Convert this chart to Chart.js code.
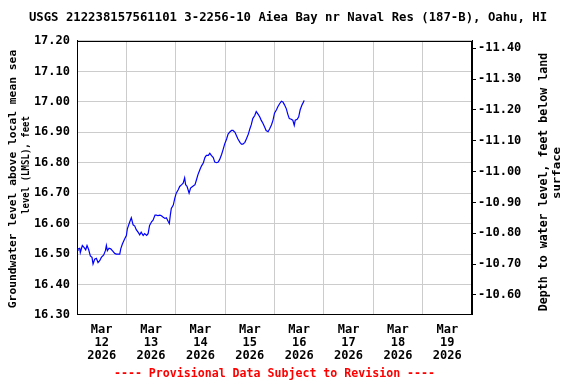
<!DOCTYPE html>
<html>
<head>
<meta charset="utf-8">
<script src="https://cdn.jsdelivr.net/npm/chart.js@4.4.1/dist/chart.umd.min.js"></script>
<style>
  html, body { margin: 0; padding: 0; background: #fff; }
  #wrap { width: 576px; height: 384px; }
</style>
</head>
<body>
<div id="wrap"><canvas id="gwChart"></canvas></div>
<script>
// time of each reading, in days since Mar 12 2026 00:00
const obsDay = [0.0, 0.02, 0.055, 0.067, 0.108, 0.142, 0.176, 0.203, 0.237, 0.27, 0.304, 0.325, 0.358, 0.392, 0.426,
    0.46, 0.493, 0.541, 0.575, 0.595, 0.615, 0.649, 0.683, 0.716, 0.764, 0.797, 0.866, 0.886, 0.919, 0.967, 1.0,
    1.02, 1.069, 1.1, 1.136, 1.17, 1.2, 1.237, 1.27, 1.30, 1.34, 1.37, 1.41, 1.44, 1.47, 1.51, 1.54, 1.58, 1.61,
    1.64, 1.68, 1.71, 1.74, 1.78, 1.81, 1.85, 1.87, 1.89, 1.91, 1.95, 1.98, 2.01, 2.05, 2.08, 2.12, 2.15, 2.18,
    2.20, 2.23, 2.27, 2.30, 2.34, 2.39, 2.42, 2.45, 2.49, 2.52, 2.56, 2.59, 2.62, 2.66, 2.69, 2.72, 2.76, 2.79,
    2.83, 2.86, 2.89, 2.93, 2.96, 2.99, 3.03, 3.06, 3.10, 3.13, 3.16, 3.20, 3.23, 3.26, 3.30, 3.33, 3.36, 3.40,
    3.43, 3.47, 3.50, 3.53, 3.56, 3.60, 3.63, 3.67, 3.70, 3.73, 3.77, 3.80, 3.83, 3.87, 3.90, 3.94, 3.97, 4.00,
    4.04, 4.07, 4.10, 4.14, 4.17, 4.20, 4.24, 4.27, 4.30, 4.34, 4.37, 4.40, 4.42, 4.46, 4.49, 4.52, 4.56, 4.59, 4.60];

// groundwater level above LMSL, feet
const levelFt = [16.512, 16.517, 16.519, 16.505, 16.528, 16.522, 16.514, 16.528, 16.514, 16.494, 16.489, 16.467, 16.483, 16.486, 16.472,
    16.478, 16.489, 16.497, 16.511, 16.528, 16.511, 16.519, 16.517, 16.511, 16.502, 16.500, 16.500, 16.517, 16.533, 16.550, 16.561,
    16.583, 16.606, 16.619, 16.596, 16.592, 16.580, 16.572, 16.563, 16.572, 16.561, 16.567, 16.561, 16.567, 16.594, 16.606, 16.611, 16.628, 16.628,
    16.626, 16.628, 16.626, 16.622, 16.617, 16.619, 16.606, 16.600, 16.628, 16.650, 16.661, 16.683, 16.700, 16.711, 16.722, 16.728, 16.733, 16.750,
    16.728, 16.722, 16.700, 16.717, 16.722, 16.728, 16.744, 16.761, 16.778, 16.789, 16.800, 16.817, 16.824, 16.824, 16.831, 16.824, 16.817, 16.802,
    16.800, 16.802, 16.811, 16.828, 16.844, 16.861, 16.878, 16.894, 16.902, 16.906, 16.906, 16.900, 16.889, 16.878, 16.867, 16.861, 16.861, 16.867,
    16.878, 16.894, 16.911, 16.925, 16.945, 16.955, 16.968, 16.959, 16.951, 16.940, 16.928, 16.917, 16.906, 16.902, 16.911, 16.925, 16.940, 16.963,
    16.974, 16.985, 16.993, 17.002, 17.000, 16.991, 16.977, 16.959, 16.945, 16.943, 16.940, 16.923, 16.940, 16.943, 16.951, 16.974, 16.991, 17.000, 17.005];

const dateLabels = [['Mar', '12', '2026'], ['Mar', '13', '2026'], ['Mar', '14', '2026'], ['Mar', '15', '2026'],
    ['Mar', '16', '2026'], ['Mar', '17', '2026'], ['Mar', '18', '2026'], ['Mar', '19', '2026']];
const levelTicks = [16.30, 16.40, 16.50, 16.60, 16.70, 16.80, 16.90, 17.00, 17.10, 17.20];
const depthTicks = [-11.40, -11.30, -11.20, -11.10, -11.00, -10.90, -10.80, -10.70, -10.60];

const FONT = "'DejaVu Sans Mono', monospace";

// rotated text reading bottom to top, squeezed along the line by sx
function sideText(c, txt, x, y, size, sx) {
    c.save();
    c.translate(x, y);
    c.rotate(-Math.PI / 2);
    c.scale(sx || 1, 1);
    c.font = "bold " + size + "px " + FONT;
    c.fillText(txt, 0, 0);
    c.restore();
}

// box round the plot + both axis titles
const plotFrame = {
    id: 'plotFrame',
    afterDraw(chart) {
        const c = chart.ctx;
        const a = chart.chartArea;
        c.save();
        c.strokeStyle = '#000';
        c.lineWidth = 1;
        c.strokeRect(Math.round(a.left) + 0.5, Math.round(a.top) + 0.5,
            Math.round(a.right - a.left) - 1, Math.round(a.bottom - a.top) - 1);

        c.fillStyle = '#000';
        c.textAlign = 'center';
        c.textBaseline = 'middle';
        sideText(c, 'Groundwater level above local mean sea', 13, 179, 11.3);
        sideText(c, 'level (LMSL), feet', 26, 165, 11.3, 0.8);
        sideText(c, 'Depth to water level, feet below land', 544, 182, 11.6);
        sideText(c, 'surface', 557, 173, 11, 1.12);
        c.restore();
    }
};

const pts = obsDay.map((d, i) => ({ x: d, y: levelFt[i] }));

const ctx = document.getElementById('gwChart').getContext('2d');
const gwChart = new Chart(ctx, {
    type: 'line',
    data: {
        datasets: [{
            data: pts,
            borderColor: '#0000ff',
            borderWidth: 1.2,
            pointRadius: 0,
            tension: 0,
            yAxisID: 'y'
        }]
    },
    options: {
        responsive: true,
        maintainAspectRatio: false,
        animation: false,
        layout: { padding: 0 },
        plugins: {
            legend: { display: false },
            tooltip: { enabled: false },
            title: {
                display: true,
                text: 'USGS 212238157561101 3-2256-10 Aiea Bay nr Naval Res (187-B), Oahu, HI',
                color: '#000',
                font: { family: FONT, size: 12.3, weight: 'bold', lineHeight: 1.25 },
                padding: { top: 10, bottom: 15.6 }
            },
            subtitle: {
                display: true,
                position: 'bottom',
                fullSize: false,
                text: '---- Provisional Data Subject to Revision ----',
                color: '#ff0000',
                font: { family: FONT, size: 11.6, weight: 'bold', lineHeight: 1.3 },
                padding: { top: 0, bottom: 2 }
            }
        },
        scales: {
            x: {
                type: 'linear',
                min: 0,
                max: 8,
                afterBuildTicks: (s) => {
                    const t = [];
                    for (let i = 0; i <= 16; i++) t.push({ value: i / 2 });
                    s.ticks = t;
                },
                afterFit: (s) => { s.height = 52; },
                grid: {
                    color: (c) => (c.tick && c.tick.value % 1 === 0) ? '#cccccc' : 'rgba(0,0,0,0)',
                    drawTicks: false
                },
                border: { color: '#000' },
                ticks: {
                    autoSkip: false,
                    maxRotation: 0,
                    padding: 8,
                    color: '#000',
                    font: { family: FONT, size: 12, weight: 'bold', lineHeight: 1.1 },
                    callback: (v) => (v % 1 === 0) ? '' : dateLabels[Math.floor(v)]
                }
            },
            y: {
                position: 'left',
                min: 16.30,
                max: 17.20,
                afterBuildTicks: (s) => { s.ticks = levelTicks.map(v => ({ value: v })); },
                afterFit: (s) => { s.width = 77; },
                grid: { color: '#cccccc', drawTicks: false },
                border: { color: '#000' },
                ticks: {
                    padding: 7,
                    color: '#000',
                    font: { family: FONT, size: 12, weight: 'bold' },
                    callback: (v) => Number(v).toFixed(2)
                }
            },
            depth: {
                position: 'right',
                reverse: true,
                min: -11.4237,
                max: -10.535,
                afterBuildTicks: (s) => { s.ticks = depthTicks.map(v => ({ value: v })); },
                afterFit: (s) => { s.width = 104; },
                grid: { drawOnChartArea: false, color: '#000', tickLength: 4 },
                border: { color: '#000' },
                ticks: {
                    padding: 2,
                    color: '#000',
                    font: { family: FONT, size: 12, weight: 'bold' },
                    callback: (v) => Number(v).toFixed(2)
                }
            }
        }
    },
    plugins: [plotFrame]
});
</script>
</body>
</html>
